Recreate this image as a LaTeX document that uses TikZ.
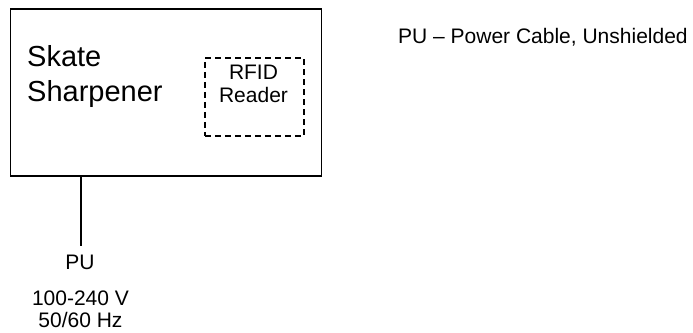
\documentclass[tikz,border=0pt]{standalone}
\usepackage{fontspec}
\setmainfont{Liberation Sans}
\begin{document}
\begin{tikzpicture}[x=1pt,y=-1pt,
  txt/.style={inner sep=0pt, font=\fontsize{21}{23}\selectfont, anchor=base},
  bigtxt/.style={inner sep=0pt, font=\fontsize{29}{35}\selectfont, align=left},
  outerbox/.style={draw, line width=1.6pt},
  dashbox/.style={draw, line width=1.5pt, dash pattern=on 6pt off 4pt}]
\useasboundingbox (0,0) rectangle (693,332);
\node[outerbox, minimum width=311pt, minimum height=167pt, anchor=north west] (ss) at (9.5,8) {};
\node[bigtxt, anchor=north west] (sstxt) at (27,45) {Skate\\Sharpener};
\node[dashbox, minimum width=99pt, minimum height=78pt, anchor=north west] (rfid) at (204,57) {};
\node[txt] (rfidtxt1) at (253.5,79) {RFID};
\node[txt] (rfidtxt2) at (253.5,102) {Reader};
\coordinate (pu) at (81,246);
\draw[line width=1.6pt] (ss.south west -| pu) -- (pu);
\node[txt] (putxt) at (80,269) {PU};
\node[txt] (volt1) at (80.5,305) {100-240 V};
\node[txt] (volt2) at (80.5,327) {50/60 Hz};
\node[txt, anchor=base west] (legend) at (398,43) {PU – Power Cable, Unshielded};
\end{tikzpicture}
\end{document}
